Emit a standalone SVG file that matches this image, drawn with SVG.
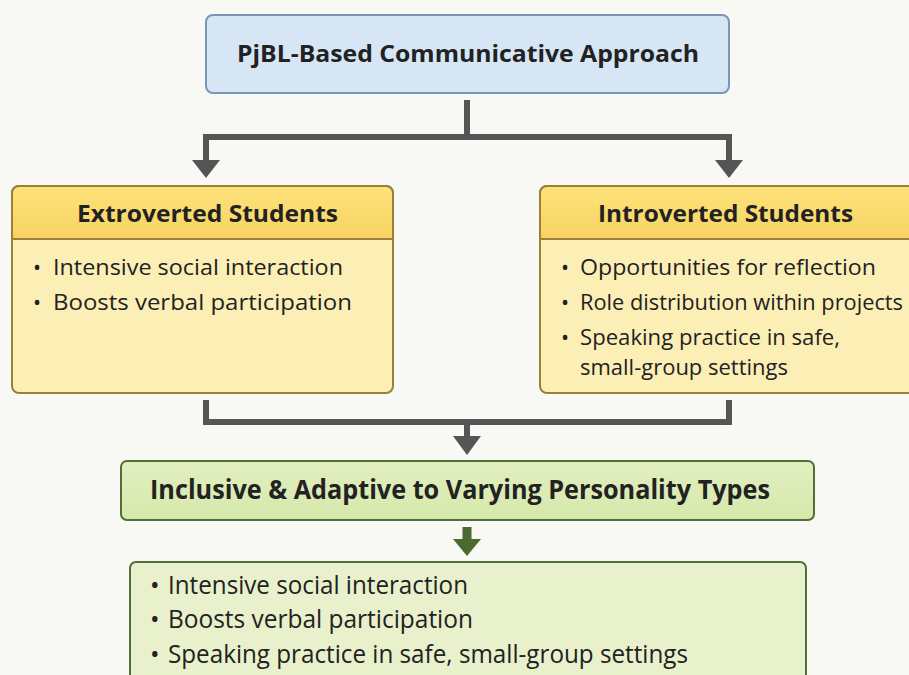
<svg xmlns="http://www.w3.org/2000/svg" width="909" height="675" viewBox="0 0 909 675">
<defs>
<style>
.t{font-family:"Open Sans",Lato,"Liberation Sans",sans-serif;fill:#222;}
.h{font-weight:bold;font-size:24px;}
.b{font-size:21.5px;}
.g{font-size:25.5px;}
.gh{font-weight:bold;font-size:26px;}
.ln{fill:none;stroke:#555;stroke-width:6;}
</style>
<linearGradient id="yh" x1="0" y1="0" x2="0" y2="1"><stop offset="0" stop-color="#fde27a"/><stop offset="1" stop-color="#f7d363"/></linearGradient>
<linearGradient id="gg" x1="0" y1="0" x2="0" y2="1"><stop offset="0" stop-color="#e2efbf"/><stop offset="1" stop-color="#d6e8ab"/></linearGradient>
</defs>
<rect width="909" height="675" fill="#f8f8f5"/>
<g id="connectors">
<path class="ln" d="M467 100V137M206 137H729M206 134V162M729 134V162"/>
<polygon points="192,160 220,160 206,178" fill="#555"/>
<polygon points="715,160 743,160 729,178" fill="#555"/>
<path class="ln" d="M206 400V422H729V400M467 419V438" stroke-width="5"/>
<polygon points="453,436 481,436 467,455" fill="#555"/>
<path d="M467 527V541" stroke="#4a6a30" stroke-width="9" fill="none"/>
<polygon points="453,539 481,539 467,556" fill="#4a6a30"/>
</g>
<g id="top">
<rect x="206" y="15" width="523" height="78" rx="7" fill="#d6e6f5" stroke="#7896b6" stroke-width="2"/>
<text class="t h" x="237" y="62" textLength="462" lengthAdjust="spacingAndGlyphs">PjBL-Based Communicative Approach</text>
</g>
<g id="extro">
<rect x="12" y="186" width="381" height="207" rx="7" fill="#fcefb6" stroke="#9a8038" stroke-width="2"/>
<path d="M12 239V193a7 7 0 0 1 7-7H386a7 7 0 0 1 7 7V239Z" fill="url(#yh)" stroke="#9a8038" stroke-width="2"/>
<text class="t h" x="77" y="222" textLength="261" lengthAdjust="spacingAndGlyphs">Extroverted Students</text>
<text class="t b" x="33" y="275">•</text>
<text class="t b" x="53" y="275" textLength="290" lengthAdjust="spacingAndGlyphs">Intensive social interaction</text>
<text class="t b" x="33" y="310">•</text>
<text class="t b" x="53" y="310" textLength="299" lengthAdjust="spacingAndGlyphs">Boosts verbal participation</text>
</g>
<g id="intro">
<rect x="540" y="186" width="380" height="207" rx="7" fill="#fcefb6" stroke="#9a8038" stroke-width="2"/>
<path d="M540 239V193a7 7 0 0 1 7-7H913a7 7 0 0 1 7 7V239Z" fill="url(#yh)" stroke="#9a8038" stroke-width="2"/>
<text class="t h" x="598" y="222" textLength="255" lengthAdjust="spacingAndGlyphs">Introverted Students</text>
<text class="t b" x="561" y="275">•</text>
<text class="t b" x="580" y="275" textLength="296" lengthAdjust="spacingAndGlyphs">Opportunities for reflection</text>
<text class="t b" x="561" y="310">•</text>
<text class="t b" x="580" y="310" textLength="323" lengthAdjust="spacingAndGlyphs">Role distribution within projects</text>
<text class="t b" x="561" y="345">•</text>
<text class="t b" x="580" y="345" textLength="260" lengthAdjust="spacingAndGlyphs">Speaking practice in safe,</text>
<text class="t b" x="580" y="375" textLength="208" lengthAdjust="spacingAndGlyphs">small-group settings</text>
</g>
<g id="inclusive">
<rect x="121" y="461" width="693" height="59" rx="6" fill="url(#gg)" stroke="#4f6e38" stroke-width="2"/>
<text class="t gh" x="150" y="499" textLength="620" lengthAdjust="spacingAndGlyphs">Inclusive &amp; Adaptive to Varying Personality Types</text>
</g>
<g id="summary">
<rect x="130" y="562" width="676" height="130" rx="6" fill="#e8f1cb" stroke="#4f6e38" stroke-width="2"/>
<text class="t g" x="150" y="594">•</text>
<text class="t g" x="168" y="594" textLength="300" lengthAdjust="spacingAndGlyphs">Intensive social interaction</text>
<text class="t g" x="150" y="628">•</text>
<text class="t g" x="168" y="628" textLength="305" lengthAdjust="spacingAndGlyphs">Boosts verbal participation</text>
<text class="t g" x="150" y="663">•</text>
<text class="t g" x="168" y="663" textLength="520" lengthAdjust="spacingAndGlyphs">Speaking practice in safe, small-group settings</text>
</g>
</svg>
